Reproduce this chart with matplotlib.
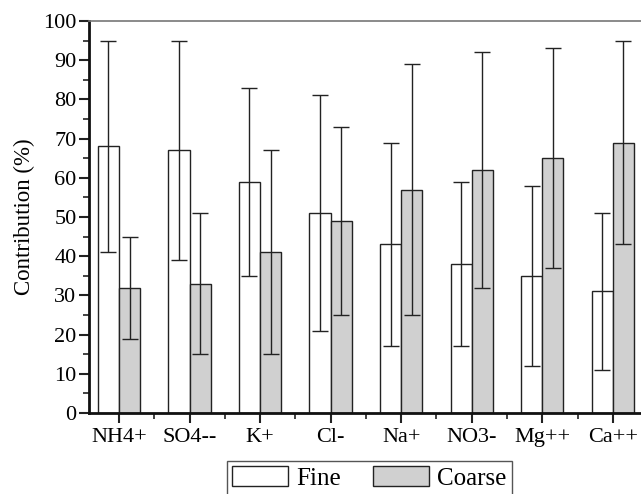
import matplotlib
matplotlib.use("Agg")
import matplotlib.pyplot as plt
import numpy as np
from matplotlib.ticker import MultipleLocator

categories = ["NH4+", "SO4--", "K+", "Cl-", "Na+", "NO3-", "Mg++", "Ca++"]
fine = [68, 67, 59, 51, 43, 38, 35, 31]
fine_err = [27, 28, 24, 30, 26, 21, 23, 20]
coarse = [32, 33, 41, 49, 57, 62, 65, 69]
coarse_err = [13, 18, 26, 24, 32, 30, 28, 26]

plt.rcParams['font.family'] = ['Liberation Serif', 'DejaVu Serif']
plt.rcParams['font.size'] = 16

fig = plt.figure(figsize=(6.41, 4.94), dpi=100)
ax = fig.add_axes([89/641, 1-413/494, 1-89/641, (413-21)/494])

x = np.arange(len(categories))
w = 0.3
ax.bar(x - w/2, fine, w, color='white', edgecolor='#222222', linewidth=1.0, label='Fine', zorder=2)
ax.bar(x + w/2, coarse, w, color='#d0d0d0', edgecolor='#222222', linewidth=1.0, label='Coarse', zorder=2)
ax.errorbar(x - w/2, fine, yerr=fine_err, fmt='none', ecolor='#222222', elinewidth=1.0, capsize=5.8, capthick=1.0, zorder=3)
ax.errorbar(x + w/2, coarse, yerr=coarse_err, fmt='none', ecolor='#222222', elinewidth=1.0, capsize=5.8, capthick=1.0, zorder=3)

ax.set_xlim(-0.425, 7.4)
ax.set_ylim(0, 100)
ax.set_xticks(x)
ax.set_xticklabels(categories)
ax.set_xticks(x[:-1] + 0.5, minor=True)
ax.yaxis.set_major_locator(MultipleLocator(10))
ax.yaxis.set_minor_locator(MultipleLocator(5))
ax.tick_params(axis='both', which='major', direction='out', length=7, width=1.5, color='#222222')
ax.tick_params(axis='both', which='minor', direction='out', length=4, width=1.2, color='#222222')
ax.tick_params(axis='x', pad=4)
ax.tick_params(axis='y', pad=2)
ax.set_ylabel("Contribution (%)", fontsize=16.5, labelpad=6)

ax.spines['left'].set_linewidth(2)
ax.spines['bottom'].set_linewidth(2)
ax.spines['left'].set_color('#111111')
ax.spines['bottom'].set_color('#111111')
ax.spines['top'].set_linewidth(1.2)
ax.spines['top'].set_color('#777777')
ax.spines['right'].set_visible(False)

leg = fig.legend(loc='upper left', bbox_to_anchor=(227/641, 1-461/494), ncol=2,
                 frameon=True, fancybox=False, edgecolor='#555555', framealpha=1,
                 fontsize=18, handlelength=2.24, handleheight=0.84, columnspacing=1.3,
                 handletextpad=0.32, borderpad=0.2, borderaxespad=0)
leg.get_frame().set_linewidth(1.0)

fig.savefig("out.png", dpi=100)
